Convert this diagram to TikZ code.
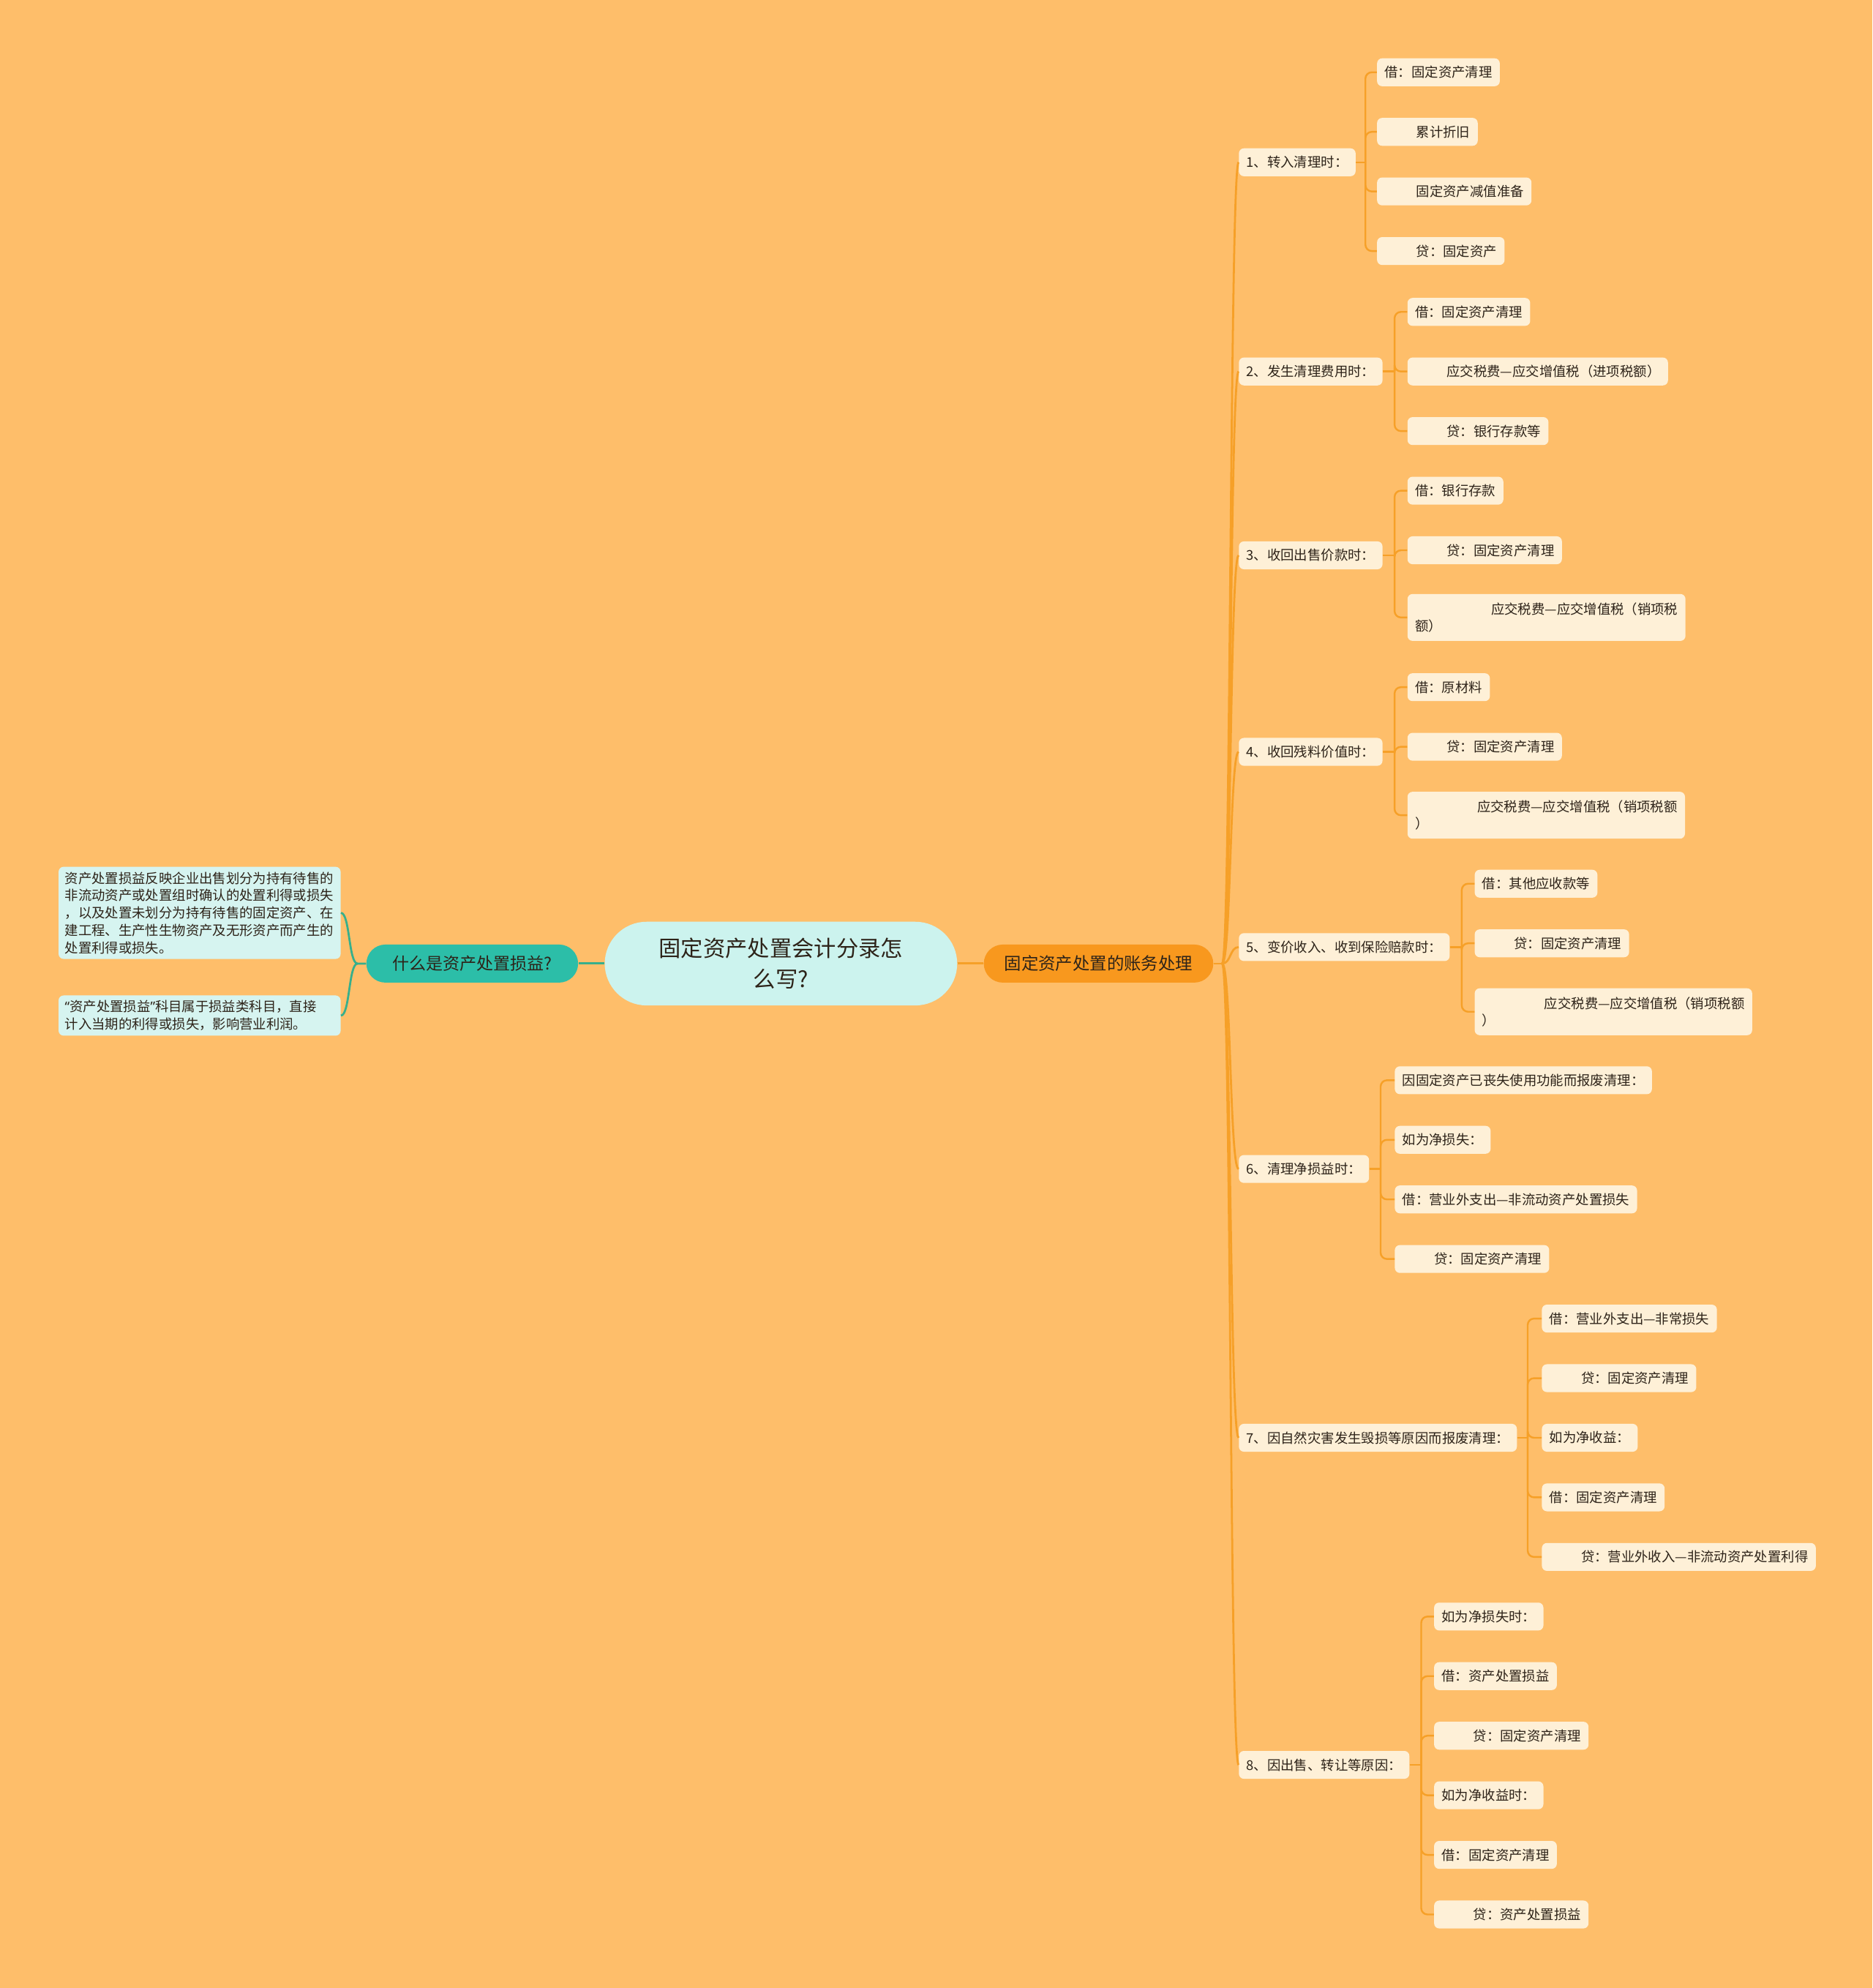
\documentclass[tikz,border=0pt]{standalone}
\usepackage{fontspec}
\setmainfont{Noto Sans CJK SC}
\newfontfamily\latinq{Noto Sans}
\usetikzlibrary{calc}
\definecolor{bg}{RGB}{254,190,106}
\definecolor{cream}{RGB}{254,240,215}
\definecolor{oline}{RGB}{246,160,40}
\definecolor{txt}{RGB}{45,35,25}
\definecolor{ctr}{RGB}{204,243,238}
\definecolor{tealn}{RGB}{44,190,168}
\definecolor{lleaf}{RGB}{214,244,240}
\definecolor{mainor}{RGB}{248,152,30}
\definecolor{tline}{RGB}{55,175,140}
\newcommand\myind{\hspace*{25pt}}
\tikzset{
  leaf/.style={fill=cream, rounded corners=4pt, inner xsep=6pt, inner ysep=3pt,
    minimum height=22pt, anchor=west, font=\fontsize{10.6}{13.5}\selectfont,
    text=txt, align=left},
  leaftwo/.style={leaf, minimum height=37pt},
  lone/.style={line width=1.6pt, draw=oline},
  ltwo/.style={line width=1.4pt, draw=oline, rounded corners=5pt},
  lleafbox/.style={fill=lleaf, rounded corners=4pt, inner xsep=5pt, inner ysep=4pt, anchor=west,
    align=left, text=txt, font=\fontsize{10.6}{13.7}\selectfont, text width=212.5pt},
}
\begin{document}
\begin{tikzpicture}[x=1pt,y=-1pt]
\fill[bg] (0,0) rectangle (1477,1568);
\useasboundingbox (0,0) rectangle (1477,1568);

% central nodes
\node[fill=ctr, rounded corners=33pt, minimum width=278pt, minimum height=66pt,
  align=center, text=txt, font=\fontsize{17.5}{24}\selectfont] (c) at (616,760)
  {固定资产处置会计分录怎\\么写?};
\node[fill=tealn, rounded corners=15pt, minimum width=167pt, minimum height=30pt,
  text=txt, font=\fontsize{13.3}{16}\selectfont] (l) at (372.5,760) {什么是资产处置损益?};
\node[fill=mainor, rounded corners=15pt, minimum width=181pt, minimum height=30pt,
  text=txt, font=\fontsize{13.5}{16}\selectfont] (m) at (866.5,760) {固定资产处置的账务处理};
\draw[line width=1.8pt, tline] (c.west) -- (l.east);
\draw[line width=1.8pt, oline] (c.east) -- (m.east -| m.west);

% left leaves
\node[lleafbox] (la) at (46,720)
  {资产处置损益反映企业出售划分为持有待售的\\非流动资产或处置组时确认的处置利得或损失\\，以及处置未划分为持有待售的固定资产、在\\建工程、生产性生物资产及无形资产而产生的\\处置利得或损失。};
\node[lleafbox] (lb) at (46,801)
  {{\latinq “}资产处置损益{\latinq ”}科目属于损益类科目，直接\\计入当期的利得或损失，影响营业利润。};
\draw[line width=1.6pt, tline] (l.west) -- (282,760) .. controls (275,760) and (276,720) .. (la.east);
\draw[line width=1.6pt, tline] (282,760) .. controls (275,760) and (276,801) .. (lb.east);

% branches
\node[leaf] (b1) at (977,128) {1、转入清理时：};
\node[leaf] (b2) at (977,293) {2、发生清理费用时：};
\node[leaf] (b3) at (977,438) {3、收回出售价款时：};
\node[leaf] (b4) at (977,593) {4、收回残料价值时：};
\node[leaf] (b5) at (977,747) {5、变价收入、收到保险赔款时：};
\node[leaf] (b6) at (977,922) {6、清理净损益时：};
\node[leaf] (b7) at (977,1134) {7、因自然灾害发生毁损等原因而报废清理：};
\node[leaf] (b8) at (977,1392) {8、因出售、转让等原因：};

\coordinate (mj) at (964,760);
\draw[lone] (m.east) -- (mj);
\foreach \b in {b1,b2,b3,b4,b5,b6,b7,b8}{
  \draw[lone] (mj) .. controls (971,760) and ($(\b.west)+(-7,0)$) .. (\b.west);
}

% branch 1
\node[leaf] (a11) at (1086,57) {借：固定资产清理};
\node[leaf] (a12) at (1086,104) {\myind 累计折旧};
\node[leaf] (a13) at (1086,151) {\myind 固定资产减值准备};
\node[leaf] (a14) at (1086,198) {\myind 贷：固定资产};
% branch 2
\node[leaf] (a21) at (1110,246) {借：固定资产清理};
\node[leaf] (a22) at (1110,293) {\myind 应交税费—应交增值税（进项税额）};
\node[leaf] (a23) at (1110,340) {\myind 贷：银行存款等};
% branch 3
\node[leaf] (a31) at (1110,387) {借：银行存款};
\node[leaf] (a32) at (1110,434) {\myind 贷：固定资产清理};
\node[leaftwo] (a33) at (1110,487) {\hspace*{60pt}应交税费—应交增值税（销项税\\额）};
% branch 4
\node[leaf] (a41) at (1110,542) {借：原材料};
\node[leaf] (a42) at (1110,589) {\myind 贷：固定资产清理};
\node[leaftwo] (a43) at (1110,643) {\hspace*{49pt}应交税费—应交增值税（销项税额\\）};
% branch 5
\node[leaf] (a51) at (1163,697) {借：其他应收款等};
\node[leaf] (a52) at (1163,744) {\myind 贷：固定资产清理};
\node[leaftwo] (a53) at (1163,798) {\hspace*{49pt}应交税费—应交增值税（销项税额\\）};
% branch 6
\node[leaf] (a61) at (1100,852) {因固定资产已丧失使用功能而报废清理：};
\node[leaf] (a62) at (1100,899) {如为净损失：};
\node[leaf] (a63) at (1100,946) {借：营业外支出—非流动资产处置损失};
\node[leaf] (a64) at (1100,993) {\myind 贷：固定资产清理};
% branch 7
\node[leaf] (a71) at (1216,1040) {借：营业外支出—非常损失};
\node[leaf] (a72) at (1216,1087) {\myind 贷：固定资产清理};
\node[leaf] (a73) at (1216,1134) {如为净收益：};
\node[leaf] (a74) at (1216,1181) {借：固定资产清理};
\node[leaf] (a75) at (1216,1228) {\myind 贷：营业外收入—非流动资产处置利得};
% branch 8
\node[leaf] (a81) at (1131,1275) {如为净损失时：};
\node[leaf] (a82) at (1131,1322) {借：资产处置损益};
\node[leaf] (a83) at (1131,1369) {\myind 贷：固定资产清理};
\node[leaf] (a84) at (1131,1416) {如为净收益时：};
\node[leaf] (a85) at (1131,1463) {借：固定资产清理};
\node[leaf] (a86) at (1131,1510) {\myind 贷：资产处置损益};

% level-2 connectors
\foreach \b/\tx/\leaves in {b1/1077/{a11,a12,a13,a14}, b2/1100/{a21,a22,a23}, b3/1100/{a31,a32,a33},
  b4/1100/{a41,a42,a43}, b5/1153/{a51,a52,a53}, b6/1089/{a61,a62,a63,a64},
  b7/1205/{a71,a72,a73,a74,a75}, b8/1121/{a81,a82,a83,a84,a85,a86}}{
  \coordinate (t) at (\tx,0 |- \b.east);
  \draw[line width=1.4pt, oline] (\b.east) -- (t);
  \foreach \a in \leaves { \draw[ltwo] (t) |- (\a.west); }
}
\end{tikzpicture}
\end{document}
